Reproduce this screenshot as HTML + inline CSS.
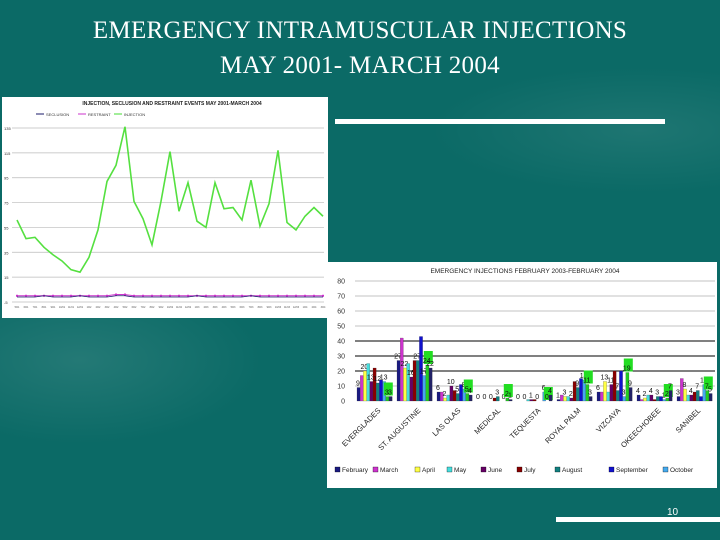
<!DOCTYPE html>
<html><head><meta charset="utf-8"><style>
body{margin:0;width:720px;height:540px;overflow:hidden;background:#0b6a66;font-family:"Liberation Sans",sans-serif;position:relative}
.t{position:absolute;left:0;width:720px;text-align:center;color:#fff;font-family:"Liberation Serif",serif;font-size:25px;letter-spacing:0.3px}
</style></head><body>
<div style="position:absolute;left:0;top:0;width:720px;height:540px;background:radial-gradient(ellipse 260px 120px at 80px 360px,rgba(255,255,255,0.10),rgba(255,255,255,0) 70%),radial-gradient(ellipse 300px 90px at 640px 130px,rgba(255,255,255,0.08),rgba(255,255,255,0) 70%)"></div>
<div class="t" style="top:17px">EMERGENCY INTRAMUSCULAR INJECTIONS</div>
<div class="t" style="top:52px">MAY 2001- MARCH 2004</div>
<div style="position:absolute;left:335px;top:119px;width:330px;height:5px;background:#fff"></div>
<div style="position:absolute;left:556px;top:517px;width:164px;height:5px;background:#fff"></div>
<div style="position:absolute;left:667px;top:507px;color:#fff;font-size:10px">10</div>

<svg id="left" style="position:absolute;left:2px;top:97px" width="326" height="221"></svg>
<svg id="right" style="position:absolute;left:327px;top:262px" width="390" height="226"></svg>

<script>
const months=["5/01","6/01","7/01","8/01","9/01","10/01","11/01","12/01","1/02","2/02","3/02","4/02","5/02","6/02","7/02","8/02","9/02","10/02","11/02","12/02","1/03","2/03","3/03","4/03","5/03","6/03","7/03","8/03","9/03","10/03","11/03","12/03","1/04","2/04","3/04"];
const injection=[66,51,52,44,38,33,26,24,36,58,97,110,141,81,67,46,81,121,73,96,65,60,96,75,76,66,98,61,79,122,64,58,69,76,69];
const seclusion=[4,4,4,5,4,4,4,5,4,4,4,5,5,4,4,4,4,4,4,4,5,4,4,4,4,4,5,4,4,4,4,4,4,4,4];
const restraint=[5,5,5,5,5,5,5,5,5,5,5,6,6,5,5,5,5,5,5,5,5,5,5,5,5,5,5,5,5,5,5,5,5,5,5];
const leftTicks=[0,20,40,60,80,100,120,140];
const leftTickLabels=["-5","15","35","55","75","95","115","135"];

const groups=["EVERGLADES","ST. AUGUSTINE","LAS OLAS","MEDICAL","TEQUESTA","ROYAL PALM","VIZCAYA","OKEECHOBEE","SANIBEL"];
const seriesNames=["February","March","April","May","June","July","August","September","October","November","December"];
const s0=[9,27,6,0,0,1,6,4,3];
const s1=[17,42,6,0,0,4,6,1,15];
const s2=[20,22,2,0,0,3,13,2,8];
const s3=[25,25,4,0,1,3,6,4,4];
const s4=[13,16,10,0,1,2,11,4,4];
const s5=[22,27,7,2,1,13,20,1,6];
const s6=[12,27,5,3,0,9,7,3,7];
const s7=[14,43,11,0,0,15,20,3,3];
const s8=[13,17,8,0,6,14,3,1,11];
const s9=[3,24,5,2,0,11,19,2,7];
const s10=[3,22,4,1,4,3,9,7,5];
const barTicks=[0,10,20,30,40,50,60,70,80];

const NS="http://www.w3.org/2000/svg";
function mk(svg,tag,attrs,name,txt){const e=document.createElementNS(NS,tag);for(const k in attrs)e.setAttribute(k,attrs[k]);


if(txt!==undefined)e.textContent=txt;svg.appendChild(e);return e;}

// left chart
(function(){
const svg=document.getElementById('left');
mk(svg,'rect',{x:0,y:0,width:326,height:221,fill:'#fff'},'chart-bg');
mk(svg,'text',{x:170,y:8,'font-size':5,'font-weight':'bold','text-anchor':'middle',fill:'#222'},'chart-title','INJECTION, SECLUSION AND RESTRAINT EVENTS MAY 2001-MARCH 2004');
const L=[[34,'SECLUSION','#1a1a6a'],[76,'RESTRAINT','#cc33cc'],[112,'INJECTION','#44dd33']];
L.forEach(l=>{mk(svg,'line',{x1:l[0],x2:l[0]+8,y1:17,y2:17,stroke:l[2],'stroke-width':1},'legend-swatch');mk(svg,'text',{x:l[0]+10,y:19,'font-size':4,fill:'#333'},'legend-entry',l[1]);});
const x0=15,x1=321,yB=205,yT=31;
const y=v=>yB-(v/140)*(yB-yT);
const x=i=>x0+i*(x1-x0)/(months.length-1);
leftTicks.forEach((t,i)=>{mk(svg,'line',{x1:10,x2:322,y1:y(t),y2:y(t),stroke:'#bbb','stroke-width':0.7},'gridline');
mk(svg,'text',{x:2,y:y(t)+2,'font-size':4,fill:'#333'},'y-tick-label',leftTickLabels[i]);});
months.forEach((m,i)=>mk(svg,'text',{x:x(i),y:yB+6,'font-size':2.5,'text-anchor':'middle',fill:'#555'},'x-tick-label',m));
const line=(d,c,w,n)=>mk(svg,'polyline',{points:d.map((v,i)=>x(i)+','+y(v)).join(' '),fill:'none',stroke:c,'stroke-width':w},n);
line(restraint,'#cc33cc',1,'restraint-line');
restraint.forEach((v,i)=>mk(svg,'rect',{x:x(i)-1,y:y(v)-1,width:2,height:2,fill:'#cc33cc'},'restraint-point'));
line(seclusion,'#1a1a6a',0.8,'seclusion-line');
line(injection,'#55e040',1.6,'injection-line');
})();

// right chart
(function(){
const svg=document.getElementById('right');
const colors=['#1a1a80','#cc33cc','#ffff44','#44dddd','#660066','#880000','#118080','#1111cc','#44aaee','#22cc22','#222266'];
const S=[s0,s1,s2,s3,s4,s5,s6,s7,s8,s9,s10];
mk(svg,'rect',{x:0,y:0,width:390,height:226,fill:'#fff'},'chart-bg');
mk(svg,'text',{x:198,y:11,'font-size':6.5,'text-anchor':'middle',fill:'#222'},'chart-title','EMERGENCY INJECTIONS FEBRUARY 2003-FEBRUARY 2004');
const yB=139,yT=19,xs=28,xe=388;
const y=v=>yB-(v/80)*(yB-yT);
barTicks.forEach(t=>{if(t>0)mk(svg,'line',{x1:xs,x2:xe,y1:y(t),y2:y(t),stroke:t>=20&&t<=40?'#000':'#888','stroke-width':t>=20&&t<=40?1:0.6},'gridline');
mk(svg,'text',{x:18,y:y(t)+2.5,'font-size':7,'text-anchor':'end',fill:'#333'},'y-tick-label',t);});
const gw=(xe-xs)/groups.length,bw=3.2;
groups.forEach((g,gi)=>{const gx=xs+gi*gw+2;
S.forEach((s,si)=>{const v=s[gi];const bx=gx+si*bw;
mk(svg,'rect',{x:bx,y:y(v),width:bw,height:yB-y(v),fill:colors[si],stroke:'#333','stroke-width':0.2},'bar-'+g.toLowerCase().replace(/[^a-z]/g,'')+'-'+seriesNames[si].toLowerCase());
if(si===9){mk(svg,'rect',{x:bx-2,y:y(v)-14,width:9,height:13,fill:'#22dd22'},'value-label-bg');}
if(si%2===0||si===9)mk(svg,'text',{x:bx+1,y:y(v)-2,'font-size':7,'text-anchor':'middle',fill:'#111'},'value-label',v);});
const lx=xs+gi*gw+gw/2+6,ly=yB+10;
mk(svg,'text',{x:lx,y:ly,'font-size':7.5,'text-anchor':'end',fill:'#222',transform:'rotate(-45 '+lx+' '+ly+')'},'x-tick-label',g);});
const lgx=[8,46,88,120,154,190,228,282,336];
seriesNames.slice(0,9).forEach((n,i)=>{mk(svg,'rect',{x:lgx[i],y:205,width:5,height:5,fill:colors[i],stroke:'#000','stroke-width':0.3},'legend-swatch');
mk(svg,'text',{x:lgx[i]+7,y:210,'font-size':6.5,fill:'#222'},'legend-entry',n);});
})();
</script>
</body></html>
